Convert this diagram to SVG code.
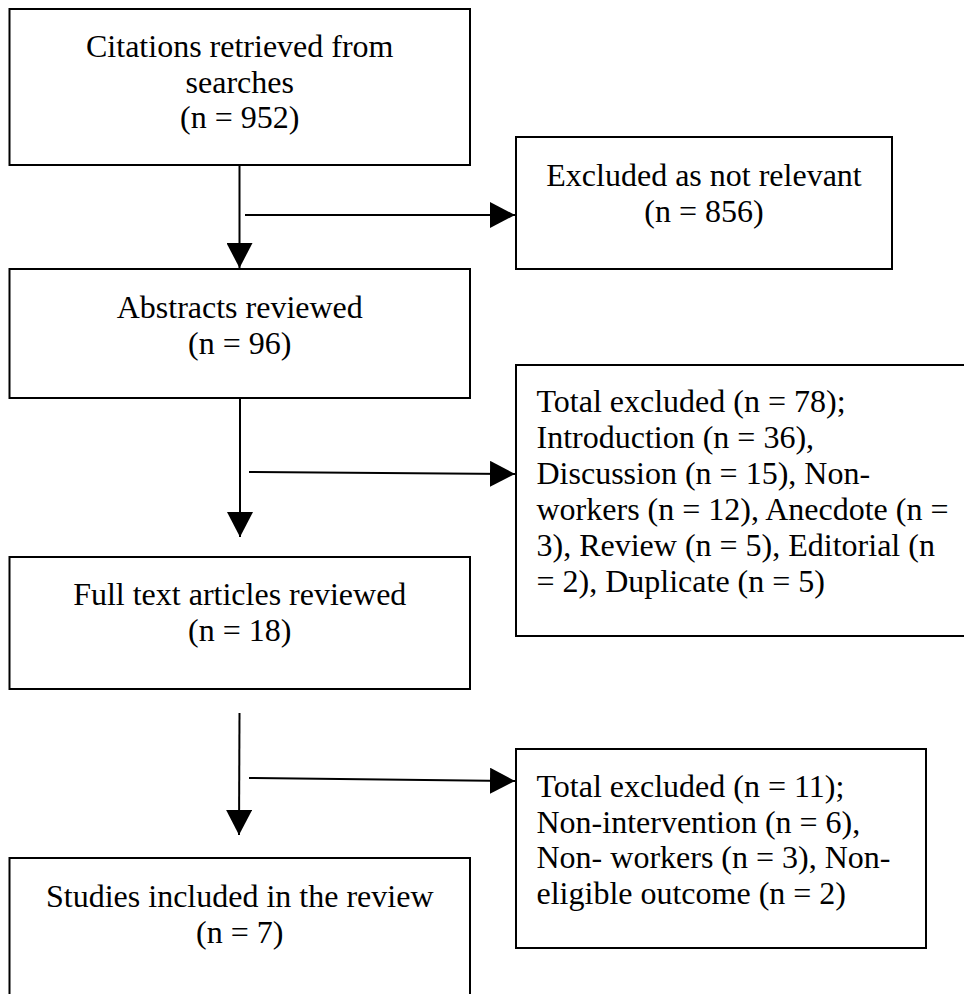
<svg xmlns="http://www.w3.org/2000/svg" width="964" height="994" viewBox="0 0 964 994">
<defs>
<style>
.box{fill:#fff;stroke:#000;stroke-width:2}
.t{font-family:"Liberation Serif","Times New Roman",serif;font-size:32px;fill:#000}
.c{text-anchor:middle}
.ln{stroke:#000;stroke-width:2;fill:none}
</style>
<marker id="ah" markerUnits="userSpaceOnUse" markerWidth="26" markerHeight="26" refX="25" refY="13" orient="auto" viewBox="0 0 26 26">
<path d="M0,0 L25,13 L0,26 z" fill="#000"/>
</marker>
</defs>
<rect width="964" height="994" fill="#fff"/>
<g id="connectors">
<line class="ln" x1="239.5" y1="165" x2="239.5" y2="268" marker-end="url(#ah)"/>
<line class="ln" x1="245" y1="215" x2="515" y2="215" marker-end="url(#ah)"/>
<line class="ln" x1="240" y1="398" x2="240" y2="537" marker-end="url(#ah)"/>
<line class="ln" x1="249" y1="472" x2="515" y2="474" marker-end="url(#ah)"/>
<line class="ln" x1="239.5" y1="713" x2="239" y2="835" marker-end="url(#ah)"/>
<line class="ln" x1="249" y1="778" x2="515" y2="781" marker-end="url(#ah)"/>
</g>
<g id="citations">
<rect class="box" x="9.5" y="9" width="460.5" height="156"/>
<text class="t c" x="239.75" y="57">Citations retrieved from</text>
<text class="t c" x="239.75" y="92.5">searches</text>
<text class="t c" x="239.75" y="128">(n = 952)</text>
</g>
<g id="abstracts">
<rect class="box" x="9.5" y="269" width="460.5" height="129"/>
<text class="t c" x="239.75" y="318">Abstracts reviewed</text>
<text class="t c" x="239.75" y="354">(n = 96)</text>
</g>
<g id="fulltext">
<rect class="box" x="9.5" y="557" width="460.5" height="132"/>
<text class="t c" x="239.75" y="605">Full text articles reviewed</text>
<text class="t c" x="239.75" y="641">(n = 18)</text>
</g>
<g id="included">
<rect class="box" x="9.5" y="858" width="460.5" height="160"/>
<text class="t c" x="239.75" y="907">Studies included in the review</text>
<text class="t c" x="239.75" y="943">(n = 7)</text>
</g>
<g id="excluded1">
<rect class="box" x="516" y="137" width="376" height="132"/>
<text class="t c" x="704" y="186">Excluded as not relevant</text>
<text class="t c" x="704" y="222">(n = 856)</text>
</g>
<g id="excluded2">
<rect class="box" x="516" y="365" width="460" height="271"/>
<text class="t" x="536.5" y="412">Total excluded (n = 78);</text>
<text class="t" x="536.5" y="448">Introduction (n = 36),</text>
<text class="t" x="536.5" y="484">Discussion (n = 15), Non-</text>
<text class="t" x="536.5" y="520">workers (n = 12), Anecdote (n =</text>
<text class="t" x="536.5" y="556">3), Review (n = 5), Editorial (n</text>
<text class="t" x="536.5" y="592">= 2), Duplicate (n = 5)</text>
</g>
<g id="excluded3">
<rect class="box" x="516" y="749" width="410" height="199"/>
<text class="t" x="536.5" y="797">Total excluded (n = 11);</text>
<text class="t" x="536.5" y="833">Non-intervention (n = 6),</text>
<text class="t" x="536.5" y="868">Non- workers (n = 3), Non-</text>
<text class="t" x="536.5" y="904">eligible outcome (n = 2)</text>
</g>
</svg>
